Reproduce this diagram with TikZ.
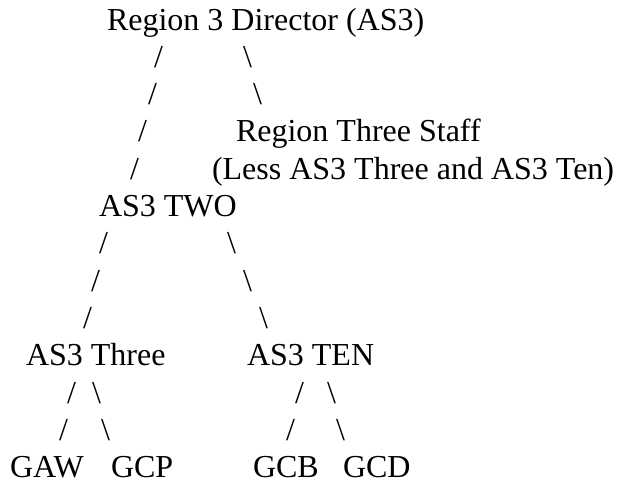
\documentclass[tikz,border=0pt]{standalone}
\usepackage{fontspec}
\setmainfont{Liberation Serif}
\usepackage{tikz}
\usetikzlibrary{positioning}

\tikzset{txt/.style={anchor=base west,inner sep=0pt,outer sep=0pt,font=\fontsize{32}{37}\selectfont}}

\begin{document}
\begin{tikzpicture}[x=1pt,y=-1pt]
\useasboundingbox (0,0) rectangle (617,483);

% Director
\node[txt] (dir) at (107,30) {Region 3 Director (AS3)};

% Director -> AS3 TWO
\foreach \n/\x/\y in {a1/154/67.3, a2/148/104.6, a3/138/141.9, a4/130/179.2}
  \node[txt] (\n) at (\x,\y) {/};
% Director -> Staff
\foreach \n/\x/\y in {b1/243/67.3, b2/253/104.6}
  \node[txt] (\n) at (\x,\y) {\textbackslash};

% Staff
\node[txt] (staff) at (236,141.9) {Region Three Staff};
\node[txt] (less) at (212,179.2) {(Less AS3 Three and AS3 Ten)};

% AS3 TWO
\node[txt] (two) at (99,216.5) {AS3 TWO};
\foreach \n/\x/\y in {c1/99/253.8, c2/91/291.1, c3/83/328.4}
  \node[txt] (\n) at (\x,\y) {/};
\foreach \n/\x/\y in {d1/227/253.8, d2/243/291.1, d3/259/328.4}
  \node[txt] (\n) at (\x,\y) {\textbackslash};

% Three and TEN
\node[txt] (three) at (26,365.7) {AS3 Three};
\node[txt] (ten) at (247,365.7) {AS3 TEN};
\foreach \n/\x/\y in {e1/67/403, e2/59/440.3, g1/295/403, g2/286/440.3}
  \node[txt] (\n) at (\x,\y) {/};
\foreach \n/\x/\y in {f1/92/403, f2/101/440.3, h1/327/403, h2/336/440.3}
  \node[txt] (\n) at (\x,\y) {\textbackslash};

% Leaves
\node[txt] (gaw) at (10,477.6) {GAW};
\node[txt] (gcp) at (111,477.6) {GCP};
\node[txt] (gcb) at (253,477.6) {GCB};
\node[txt] (gcd) at (343,477.6) {GCD};
\end{tikzpicture}
\end{document}
